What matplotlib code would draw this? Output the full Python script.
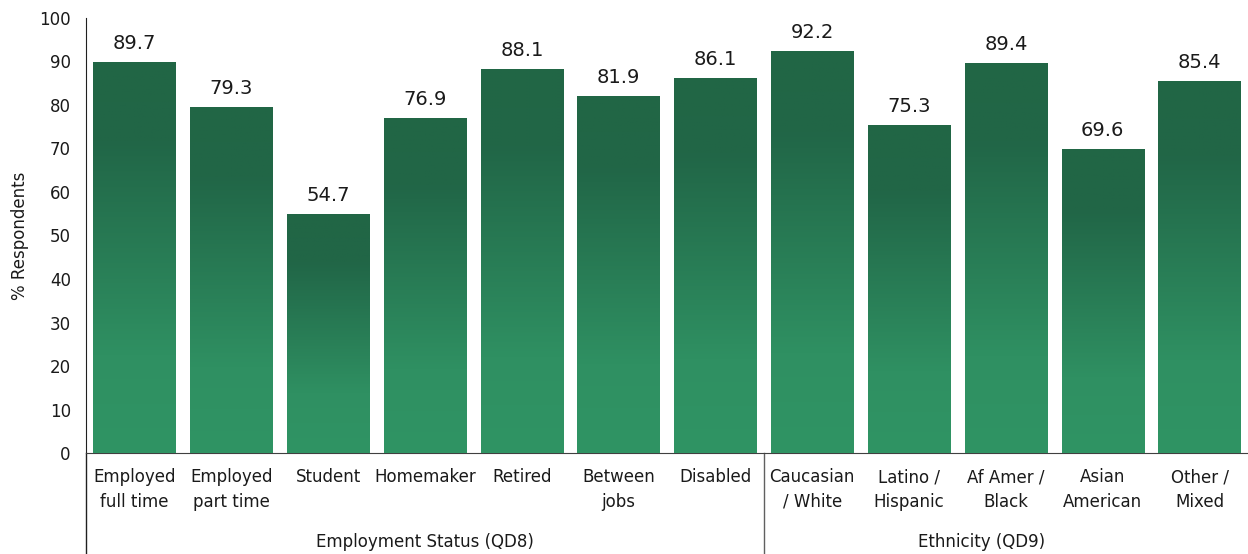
import numpy as np
import matplotlib.pyplot as plt
from matplotlib.colors import LinearSegmentedColormap

# survey results, % of respondents by group
categories = ['Employed\nfull time', 'Employed\npart time', 'Student', 'Homemaker',
              'Retired', 'Between\njobs', 'Disabled',
              'Caucasian\n/ White', 'Latino /\nHispanic', 'Af Amer /\nBlack',
              'Asian\nAmerican', 'Other /\nMixed']
values = [89.7, 79.3, 54.7, 76.9, 88.1, 81.9, 86.1, 92.2, 75.3, 89.4, 69.6, 85.4]
groups = ['Employment Status (QD8)', 'Ethnicity (QD9)']
group_sizes = [7, 5]

plt.rcParams['font.family'] = 'DejaVu Sans'
text_col = '#1a1a1a'

fig = plt.figure(figsize=(12.48, 5.54), dpi=100)
ax = fig.add_axes([0.069, 0.182, 0.931, 0.786])

x = np.arange(len(values))
bars = ax.bar(x, values, width=0.85, color='#2a7d55', zorder=2)

# vertical gradient inside each bar: light at the base, dark at the top
grad_cmap = LinearSegmentedColormap.from_list(
    'bar_green', [(0.0, '#309464'), (0.25, '#2f9062'), (0.8, '#216647'), (1.0, '#216645')])
grad = np.linspace(0, 1, 256).reshape(-1, 1)
for b in bars:
    x0, w, h = b.get_x(), b.get_width(), b.get_height()
    ax.imshow(grad, extent=[x0, x0 + w, 0, h], origin='lower', aspect='auto',
              cmap=grad_cmap, zorder=3)
    b.set_visible(False)

for xi, v in zip(x, values):
    ax.annotate(f'{v:.1f}', (xi, v), xytext=(0, 7), textcoords='offset points',
                ha='center', va='bottom', fontsize=14, color=text_col)

ax.set_xlim(-0.5, len(values) - 0.5)
ax.set_ylim(0, 100)
ax.set_yticks(np.arange(0, 101, 10))
ax.set_xticks(x)
ax.set_xticklabels(categories)
ax.tick_params(axis='both', length=0, labelsize=12, colors=text_col)
ax.tick_params(axis='y', pad=11)
ax.tick_params(axis='x', pad=11)
for lbl in ax.get_xticklabels():
    lbl.set_linespacing(1.45)

ax.set_ylabel('% Respondents', fontsize=12, color=text_col, labelpad=7)

for s in ['top', 'right']:
    ax.spines[s].set_visible(False)
ax.spines['left'].set_color('#202020')
ax.spines['bottom'].set_color('#404040')

# group separators and group labels below the category labels
trans = ax.get_xaxis_transform()
ax.plot([-0.5, -0.5], [0, -0.235], transform=trans, color='#202020', lw=1, clip_on=False)
start = 0
for name, n in zip(groups, group_sizes):
    end = start + n
    if end < len(values):
        ax.plot([end - 0.5, end - 0.5], [0, -0.235], transform=trans,
                color='#606060', lw=1, clip_on=False)
    start = end
ax.text(3.0, -0.205, groups[0], transform=trans, ha='center', va='center',
        fontsize=12, color=text_col)
ax.text(8.75, -0.205, groups[1], transform=trans, ha='center', va='center',
        fontsize=12, color=text_col)

fig.savefig('out.png', dpi=100)
